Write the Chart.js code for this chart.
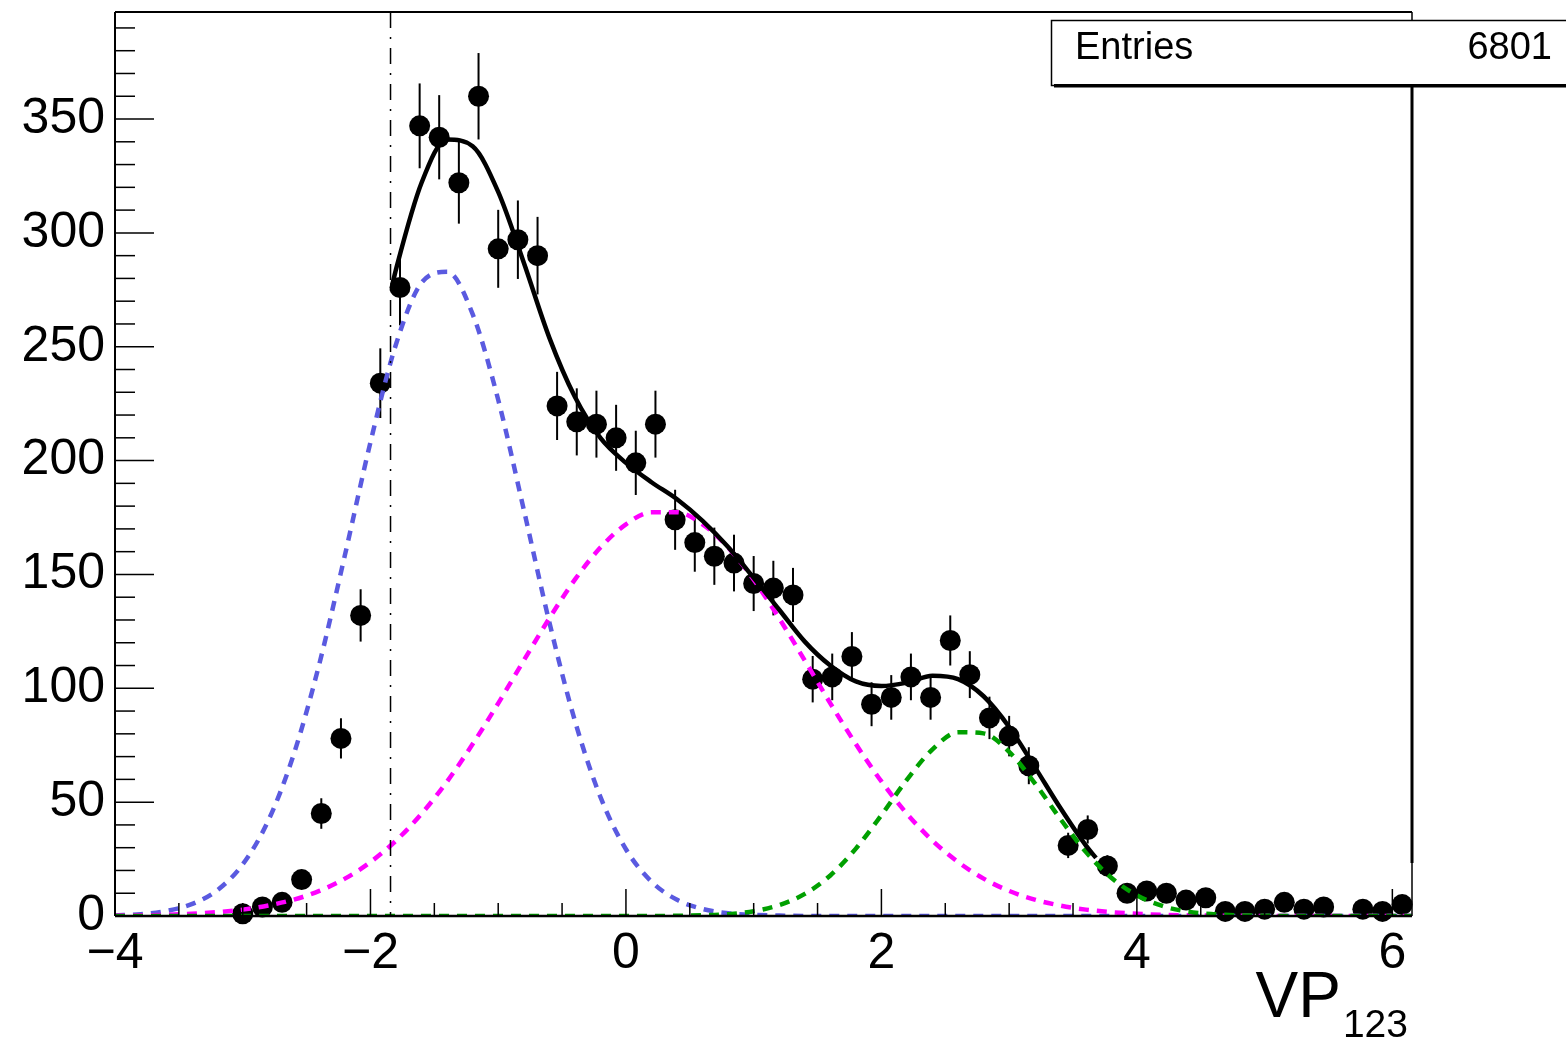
<!DOCTYPE html>
<html>
<head>
<meta charset="utf-8">
<title>VP123</title>
<script src="https://cdn.jsdelivr.net/npm/chart.js@4.4.0/dist/chart.umd.min.js"></script>
<style>
  html, body { margin: 0; padding: 0; background: #fff; }
  #wrap { width: 1566px; height: 1045px; }
</style>
</head>
<body>
<div id="wrap"><canvas id="vpChart" width="1566" height="1045"></canvas></div>
<script>
// Histogram data (bin centres, counts; null = no marker drawn)
const binCenters = [-3.000, -2.846, -2.692, -2.539, -2.385, -2.231, -2.077, -1.923, -1.769, -1.615,
                    -1.462, -1.308, -1.154, -1.000, -0.846, -0.692, -0.539, -0.385, -0.231, -0.077,
                     0.077,  0.231,  0.385,  0.539,  0.692,  0.846,  1.000,  1.154,  1.308,  1.462,
                     1.615,  1.769,  1.923,  2.077,  2.231,  2.385,  2.539,  2.692,  2.846,  3.000,
                     3.154,  3.308,  3.462,  3.615,  3.769,  3.923,  4.077,  4.231,  4.385,  4.539,
                     4.692,  4.846,  5.000,  5.154,  5.308,  5.462,  5.615,  5.769,  5.923,  6.077];
const counts = [1, 4, 6, 16, 45, 78, 132, 234, 276, 347,
                342, 322, 360, 293, 297, 290, 224, 217, 216, 210,
                199, 216, 174, 164, 158, 155, 146, 144, 141, 104,
                105, 114, 93, 96, 105, 96, 121, 106, 87, 79,
                66, null, 31, 38, 22, 10, 11, 10, 7, 8,
                2, 2, 3, 6, 3, 4, null, 3, 2, 5];

// Fit components
const curveX = [-4.0, -3.8, -3.6, -3.4, -3.2, -3.0, -2.8, -2.6, -2.4, -2.2,
                -2.0, -1.8, -1.6, -1.4, -1.2, -1.0, -0.8, -0.6, -0.4, -0.2,
                 0.0,  0.2,  0.4,  0.6,  0.8,  1.0,  1.2,  1.4,  1.6,  1.8,
                 2.0,  2.2,  2.4,  2.6,  2.8,  3.0,  3.2,  3.4,  3.6,  3.8,
                 4.0,  4.2,  4.4,  4.6,  4.8,  5.0,  5.2,  5.4,  5.6,  5.8,
                 6.0,  6.15];
const blueY = [0.3, 0.8, 2.2, 5.2, 11.3, 22.7, 41.9, 71.1, 110.8, 158.5,
               208.1, 251.1, 278.1, 282.9, 264.3, 226.7, 178.5, 129.1, 85.8, 52.3,
               29.3, 15.1, 7.1, 3.1, 1.2, 0.5, 0.2, 0, 0, 0,
               0, 0, 0, 0, 0, 0, 0, 0, 0, 0,
               0, 0, 0, 0, 0, 0, 0, 0, 0, 0,
               0, 0];
const magentaY = [0.2, 0.3, 0.5, 1.0, 1.7, 2.8, 4.6, 7.2, 11.0, 16.4,
                  23.7, 33.1, 44.9, 59.1, 75.5, 93.4, 112.2, 130.7, 147.7, 161.8,
                  172.0, 177.3, 177.3, 172.0, 161.8, 147.7, 130.7, 112.2, 93.4, 75.5,
                  59.1, 44.9, 33.1, 23.7, 16.4, 11.0, 7.2, 4.6, 2.8, 1.7,
                  1.0, 0.5, 0.3, 0.2, 0.1, 0, 0, 0, 0, 0,
                  0, 0];
const greenY = [0, 0, 0, 0, 0, 0, 0, 0, 0, 0,
                0, 0, 0, 0, 0, 0, 0, 0, 0, 0,
                0, 0, 0.1, 0.3, 0.8, 2.1, 4.8, 9.7, 17.8, 29.6,
                44.3, 59.9, 73.2, 80.7, 80.2, 72.1, 58.4, 42.7, 28.2, 16.8,
                9.1, 4.4, 1.9, 0.8, 0.3, 0.1, 0, 0, 0, 0,
                0, 0];

// Total fit, only over the fit range
const fitX = [-1.83, -1.8, -1.6, -1.4, -1.2, -1.0, -0.8, -0.6, -0.4, -0.2,
               0.0, 0.2, 0.4, 0.6, 0.8, 1.0, 1.2, 1.4, 1.6, 1.8,
               2.0, 2.2, 2.4, 2.6, 2.8, 3.0, 3.2, 3.4, 3.6, 3.68];
const fitY = [277, 284, 322, 341, 338, 318, 287, 254, 228, 210,
              199, 190.5, 183, 173.5, 162, 148.5, 134.5, 120.5, 110, 103,
              101, 102.5, 105.5, 104, 96.5, 83, 65.5, 47.5, 31, 25.5];

const xTicks = [-4, -2, 0, 2, 4, 6];
const yTicks = [0, 50, 100, 150, 200, 250, 300, 350];
const xRange = [-4, 6.1538];
const yRange = [0, 397];
const cutX = -1.843;
const entries = 6801;

const FONT = '"Liberation Sans", Arial, Helvetica, sans-serif';

function pairs(xs, ys) {
    return xs.map(function(x, i) { return { x: x, y: ys[i] }; });
}

function fmt(v) {
    return v < 0 ? '\u2212' + Math.abs(v) : String(v);
}

// frame, inward ticks, error bars, cut line, stats box, axis title
const rootFrame = {
    id: 'rootFrame',
    beforeDatasetsDraw(chart) {
        const c = chart.ctx, xs = chart.scales.x, ys = chart.scales.y;
        c.save();
        c.strokeStyle = '#000';
        c.lineWidth = 2;
        binCenters.forEach(function(bx, i) {
            const n = counts[i];
            if (n === null || n <= 0) return;
            const err = Math.sqrt(n);
            const px = xs.getPixelForValue(bx);
            c.beginPath();
            c.moveTo(px, ys.getPixelForValue(n - err));
            c.lineTo(px, ys.getPixelForValue(n + err));
            c.stroke();
        });
        c.restore();
    },
    afterDraw(chart) {
        const c = chart.ctx, xs = chart.scales.x, ys = chart.scales.y;
        const a = chart.chartArea;
        c.save();
        c.strokeStyle = '#000';

        // x ticks (major every 2, minor every 0.5)
        c.lineWidth = 1.5;
        for (let v = -4; v <= 6.0001; v += 0.5) {
            const px = xs.getPixelForValue(v);
            const major = Math.abs(v / 2 - Math.round(v / 2)) < 1e-6;
            c.beginPath();
            c.moveTo(px, a.bottom);
            c.lineTo(px, a.bottom - (major ? 27 : 13));
            c.stroke();
        }
        // y ticks (major every 50, minor every 10)
        for (let v = 0; v <= 390; v += 10) {
            const py = ys.getPixelForValue(v);
            const major = v % 50 === 0;
            c.beginPath();
            c.moveTo(a.left, py);
            c.lineTo(a.left + (major ? 39 : 20), py);
            c.stroke();
        }

        // dash-dot cut line
        const cx = xs.getPixelForValue(cutX);
        c.lineWidth = 1.5;
        c.setLineDash([16, 9, 2, 9]);
        c.beginPath();
        c.moveTo(cx, a.top);
        c.lineTo(cx, a.bottom);
        c.stroke();
        c.setLineDash([]);

        // frame
        c.lineWidth = 2;
        c.beginPath();
        c.moveTo(a.left, a.top);
        c.lineTo(a.right, a.top);
        c.moveTo(a.left, a.top);
        c.lineTo(a.left, a.bottom);
        c.stroke();
        c.lineWidth = 2.5;
        c.beginPath();
        c.moveTo(a.left, a.bottom);
        c.lineTo(a.right, a.bottom);
        c.stroke();
        c.lineWidth = 1.5;
        c.beginPath();
        c.moveTo(a.right, a.top);
        c.lineTo(a.right, a.bottom);
        c.stroke();
        c.lineWidth = 3;
        c.beginPath();
        c.moveTo(a.right, a.top + 74);
        c.lineTo(a.right, a.bottom - 53);
        c.stroke();

        // stats box
        const bx = a.right - 361, by = a.top + 8, bw = 560, bh = 65;
        c.fillStyle = '#fff';
        c.fillRect(bx, by, bw, bh);
        c.lineWidth = 1.5;
        c.strokeRect(bx + 0.5, by + 0.5, bw, bh);
        c.fillStyle = '#000';
        c.fillRect(bx + 3, by + bh - 1, bw, 3.5);
        c.font = '38px ' + FONT;
        c.textBaseline = 'alphabetic';
        c.textAlign = 'left';
        c.fillText('Entries', bx + 24, by + 39);
        c.textAlign = 'right';
        c.fillText(String(entries), bx + 501, by + 39);

        // axis title VP_123
        c.font = '39px ' + FONT;
        c.textAlign = 'right';
        c.fillText('123', a.right - 4, a.bottom + 121);
        const w = c.measureText('123').width;
        c.font = '64px ' + FONT;
        c.fillText('VP', a.right - 4 - w - 2, a.bottom + 101);
        c.restore();
    }
};

const lineBase = {
    type: 'line',
    showLine: true,
    fill: false,
    pointRadius: 0,
    pointHoverRadius: 0,
    borderWidth: 4.5,
    cubicInterpolationMode: 'monotone'
};

const vpCtx = document.getElementById('vpChart').getContext('2d');
const vpChart = new Chart(vpCtx, {
    type: 'scatter',
    data: {
        datasets: [
            Object.assign({}, lineBase, {
                label: 'Total fit',
                data: pairs(fitX, fitY),
                borderColor: '#000000',
                order: 0
            }),
            Object.assign({}, lineBase, {
                label: 'Gaus 3',
                data: pairs(curveX, greenY),
                borderColor: '#00a000',
                borderDash: [10, 8],
                order: 1
            }),
            Object.assign({}, lineBase, {
                label: 'Gaus 2',
                data: pairs(curveX, magentaY),
                borderColor: '#ff00ff',
                borderDash: [10, 8],
                order: 2
            }),
            Object.assign({}, lineBase, {
                label: 'Gaus 1',
                data: pairs(curveX, blueY),
                borderColor: '#5a5ae0',
                borderDash: [10, 8],
                order: 3
            }),
            {
                label: 'Data',
                data: pairs(binCenters, counts).filter(function(p) { return p.y !== null; }),
                pointRadius: 10.5,
                pointHoverRadius: 10.5,
                pointBackgroundColor: '#000',
                pointBorderWidth: 0,
                clip: false,
                order: 10
            }
        ]
    },
    options: {
        responsive: false,
        animation: false,
        devicePixelRatio: 1,
        layout: { padding: { top: 12, right: 154, left: 0, bottom: 0 } },
        plugins: {
            legend: { display: false },
            tooltip: { enabled: false }
        },
        scales: {
            x: {
                type: 'linear',
                min: xRange[0],
                max: xRange[1],
                grid: { display: false },
                border: { display: false },
                afterBuildTicks: function(s) { s.ticks = xTicks.map(function(v) { return { value: v }; }); },
                afterFit: function(s) { s.height = 129; s.paddingLeft = 0; s.paddingRight = 0; },
                ticks: {
                    color: '#000',
                    font: { family: FONT, size: 50 },
                    padding: 0,
                    maxRotation: 0,
                    autoSkip: false,
                    callback: function(v) { return fmt(v); }
                }
            },
            y: {
                type: 'linear',
                min: yRange[0],
                max: yRange[1],
                grid: { display: false },
                border: { display: false },
                afterBuildTicks: function(s) { s.ticks = yTicks.map(function(v) { return { value: v }; }); },
                afterFit: function(s) { s.width = 115; s.paddingTop = 0; s.paddingBottom = 0; },
                ticks: {
                    color: '#000',
                    font: { family: FONT, size: 50 },
                    padding: 2,
                    autoSkip: false,
                    callback: function(v) { return String(v); }
                }
            }
        }
    },
    plugins: [rootFrame]
});
</script>
</body>
</html>
